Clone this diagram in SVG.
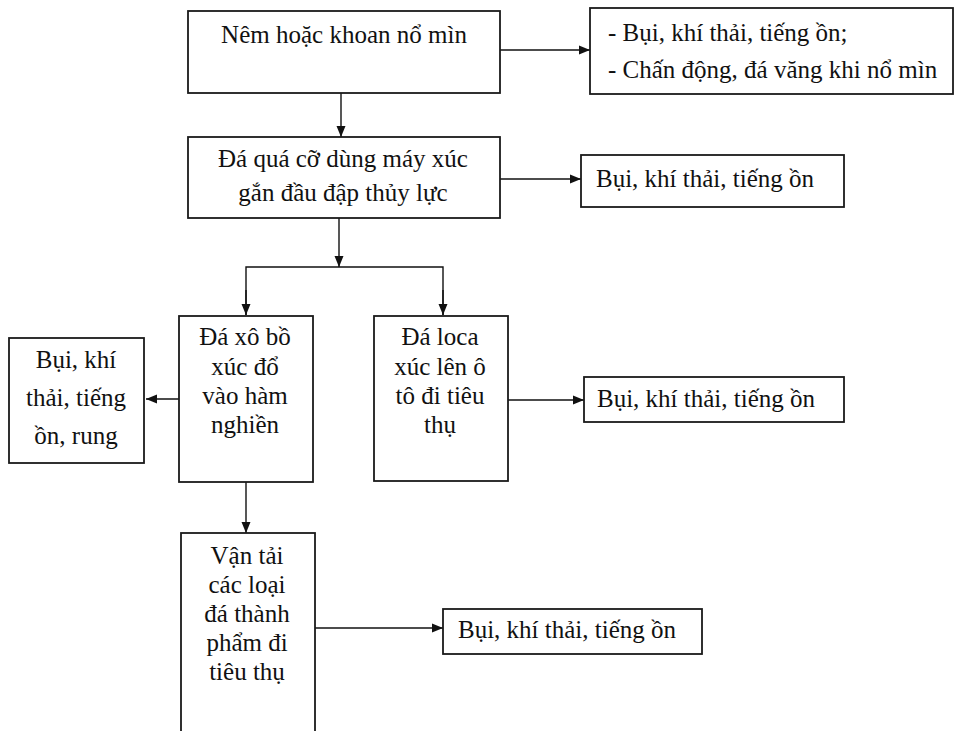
<svg xmlns="http://www.w3.org/2000/svg" width="955" height="731" viewBox="0 0 955 731">
<style>
.box{fill:#fff;stroke:#1a1a1a;stroke-width:1.8}
text{font-family:'Liberation Serif','Tinos','Times New Roman','DejaVu Serif',serif;font-size:25px;fill:#111}
.c{text-anchor:middle}
.ln{fill:none;stroke:#111;stroke-width:1.4}
</style>
<defs>
<marker id="ah" markerUnits="userSpaceOnUse" markerWidth="12" markerHeight="10" refX="11" refY="5" orient="auto">
<path d="M0,0.5 L11,5 L0,9.5 z" fill="#111"/>
</marker>
</defs>
<rect width="955" height="731" fill="#fff"/>
<g id="connectors">
<line class="ln" x1="500" y1="50" x2="590" y2="50" marker-end="url(#ah)"/>
<line class="ln" x1="341" y1="93" x2="341" y2="137" marker-end="url(#ah)"/>
<line class="ln" x1="497" y1="179" x2="581" y2="179" marker-end="url(#ah)"/>
<line class="ln" x1="339" y1="218" x2="339" y2="267" marker-end="url(#ah)"/>
<polyline class="ln" points="246,315 246,267 443,267 443,315"/>
<line class="ln" x1="246" y1="290" x2="246" y2="315" marker-end="url(#ah)"/>
<line class="ln" x1="443" y1="290" x2="443" y2="315" marker-end="url(#ah)"/>
<line class="ln" x1="179" y1="399" x2="146" y2="399" marker-end="url(#ah)"/>
<line class="ln" x1="507" y1="400" x2="584" y2="400" marker-end="url(#ah)"/>
<line class="ln" x1="246" y1="482" x2="246" y2="533" marker-end="url(#ah)"/>
<line class="ln" x1="315" y1="628" x2="443" y2="628" marker-end="url(#ah)"/>
</g>
<g id="n1">
<rect class="box" x="188" y="11" width="312" height="82"/>
<text class="c" x="344" y="43" font-family="Liberation Serif, serif">Nêm hoặc khoan nổ mìn</text>
</g>
<g id="n1r">
<rect class="box" x="590" y="8" width="363" height="86"/>
<text x="608" y="41">- Bụi, khí thải, tiếng ồn;</text>
<text x="608" y="78">- Chấn động, đá văng khi nổ mìn</text>
</g>
<g id="n2">
<rect class="box" x="188" y="137" width="312" height="81"/>
<text class="c" x="343" y="167">Đá quá cỡ dùng máy  xúc</text>
<text class="c" x="343" y="201">gắn đầu đập thủy lực</text>
</g>
<g id="n2r">
<rect class="box" x="581" y="155" width="263" height="52"/>
<text x="596" y="187">Bụi, khí thải, tiếng ồn</text>
</g>
<g id="n3">
<rect class="box" x="179" y="316" width="134" height="166"/>
<text class="c" x="245" y="345">Đá xô bồ</text>
<text class="c" x="245" y="375">xúc đổ</text>
<text class="c" x="245" y="404">vào hàm</text>
<text class="c" x="245" y="433">nghiền</text>
</g>
<g id="n3l">
<rect class="box" x="9" y="338" width="135" height="125"/>
<text class="c" x="76" y="368">Bụi, khí</text>
<text class="c" x="76" y="406">thải, tiếng</text>
<text class="c" x="76" y="444">ồn, rung</text>
</g>
<g id="n4">
<rect class="box" x="374" y="316" width="134" height="165"/>
<text class="c" x="440" y="345">Đá loca</text>
<text class="c" x="440" y="375">xúc lên ô</text>
<text class="c" x="440" y="404">tô đi tiêu</text>
<text class="c" x="440" y="433">thụ</text>
</g>
<g id="n4r">
<rect class="box" x="584" y="377" width="260" height="45"/>
<text x="597" y="407">Bụi, khí thải, tiếng ồn</text>
</g>
<g id="n5">
<rect class="box" x="181" y="533" width="134" height="220"/>
<text class="c" x="247" y="564">Vận tải</text>
<text class="c" x="247" y="593">các loại</text>
<text class="c" x="247" y="622">đá thành</text>
<text class="c" x="247" y="651">phẩm  đi</text>
<text class="c" x="247" y="680">tiêu thụ</text>
</g>
<g id="n5r">
<rect class="box" x="443" y="609" width="259" height="45"/>
<text x="458" y="638">Bụi, khí thải, tiếng ồn</text>
</g>
</svg>
